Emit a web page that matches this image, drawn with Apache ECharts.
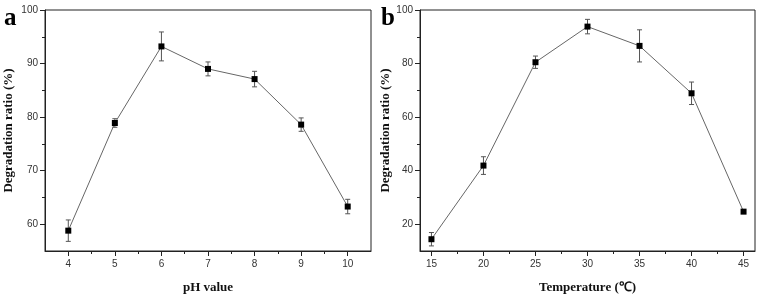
<!DOCTYPE html>
<html>
<head>
<meta charset="utf-8">
<script src="https://cdn.jsdelivr.net/npm/echarts@6/dist/echarts.min.js"></script>
<style>
  html, body { margin: 0; padding: 0; background: #fff; }
  #chart { width: 760px; height: 299px; }
</style>
</head>
<body>
<div id="chart"></div>
<script>
// panel a : pH
var phValues = [4, 5, 6, 7, 8, 9, 10];
var phRatio = [58.8, 78.9, 93.2, 89.0, 87.1, 78.6, 63.3];
var phError = [2.0, 0.8, 2.7, 1.3, 1.45, 1.25, 1.35];
var phTicks = [4, 5, 6, 7, 8, 9, 10];
var phMinorTicks = [4.5, 5.5, 6.5, 7.5, 8.5, 9.5];
var ratioTicksA = [60, 70, 80, 90, 100];
var ratioMinorA = [65, 75, 85, 95];

// panel b : temperature
var tempValues = [15, 20, 25, 30, 35, 40, 45];
var tempRatio = [14.4, 41.9, 80.5, 93.8, 86.6, 68.9, 24.7];
var tempError = [2.5, 3.3, 2.3, 2.7, 6.0, 4.2, 0.4];
var tempTicks = [15, 20, 25, 30, 35, 40, 45];
var tempMinorTicks = [17.5, 22.5, 27.5, 32.5, 37.5, 42.5];
var ratioTicksB = [20, 40, 60, 80, 100];
var ratioMinorB = [30, 50, 70, 90];

var chart = echarts.init(document.getElementById('chart'));

var axisColor = '#222';
var labelFont = { fontSize: 10, fontFamily: 'Liberation Sans, Arial, sans-serif', color: '#333' };
var titleFont = { fontSize: 13, fontWeight: 'bold', fontFamily: 'Liberation Serif, Times New Roman, serif', color: '#111' };

function pairs(xs, ys) {
    return xs.map(function (x, i) { return [x, ys[i]]; });
}
function triples(xs, ys, es) {
    return xs.map(function (x, i) { return [x, ys[i], es[i]]; });
}

function errorBars(params, api) {
    var x = api.value(0), y = api.value(1), e = api.value(2);
    var top = api.coord([x, y + e]);
    var bot = api.coord([x, y - e]);
    var w = 2.5;
    var style = { stroke: '#555', lineWidth: 1 };
    return {
        type: 'group',
        children: [
            { type: 'line', shape: { x1: top[0], y1: top[1], x2: bot[0], y2: bot[1] }, style: style },
            { type: 'line', shape: { x1: top[0] - w, y1: top[1], x2: top[0] + w, y2: top[1] }, style: style },
            { type: 'line', shape: { x1: bot[0] - w, y1: bot[1], x2: bot[0] + w, y2: bot[1] }, style: style }
        ]
    };
}

function mainX(grid, min, max, ticks, name, gap) {
    return {
        type: 'value', gridIndex: grid, min: min, max: max, position: 'bottom',
        name: name, nameLocation: 'middle', nameGap: gap, nameTextStyle: titleFont,
        axisLine: { onZero: false, lineStyle: { color: axisColor, width: 1 } },
        axisTick: { customValues: ticks, length: 5, lineStyle: { color: axisColor } },
        axisLabel: Object.assign({ customValues: ticks, margin: 8 }, labelFont),
        splitLine: { show: false }
    };
}
function minorX(grid, min, max, ticks) {
    return {
        type: 'value', gridIndex: grid, min: min, max: max, position: 'bottom',
        axisLine: { show: false, onZero: false },
        axisTick: { customValues: ticks, length: 3, lineStyle: { color: axisColor } },
        axisLabel: { show: false },
        splitLine: { show: false }
    };
}
function mainY(grid, min, max, ticks, gap) {
    return {
        type: 'value', gridIndex: grid, min: min, max: max, position: 'left',
        name: 'Degradation ratio (%)', nameLocation: 'middle', nameGap: gap, nameTextStyle: titleFont,
        axisLine: { show: true, onZero: false, lineStyle: { color: axisColor, width: 1 } },
        axisTick: { show: true, customValues: ticks, length: 5, lineStyle: { color: axisColor } },
        axisLabel: Object.assign({ customValues: ticks, margin: 7 }, labelFont),
        splitLine: { show: false }
    };
}
function minorY(grid, min, max, ticks) {
    return {
        type: 'value', gridIndex: grid, min: min, max: max, position: 'left',
        axisLine: { show: false, onZero: false },
        axisTick: { show: true, customValues: ticks, length: 3, lineStyle: { color: axisColor } },
        axisLabel: { show: false },
        splitLine: { show: false }
    };
}

function lineSeries(x, y, data) {
    return {
        type: 'line', xAxisIndex: x, yAxisIndex: y, data: data,
        symbol: 'rect', symbolSize: 6, z: 3,
        lineStyle: { color: '#666', width: 1 },
        itemStyle: { color: '#000' },
        animation: false
    };
}
function errSeries(x, y, data) {
    return {
        type: 'custom', xAxisIndex: x, yAxisIndex: y, data: data,
        renderItem: errorBars, z: 2, animation: false
    };
}

chart.setOption({
    animation: false,
    grid: [
        { left: 45, top: 10, width: 326, height: 249, show: true, borderColor: axisColor, borderWidth: 1 },
        { left: 420, top: 10, width: 335, height: 246, show: true, borderColor: axisColor, borderWidth: 1 }
    ],
    xAxis: [
        mainX(0, 3.5, 10.5, phTicks, 'pH value', 30),
        minorX(0, 3.5, 10.5, phMinorTicks),
        mainX(1, 13.9, 46.1, tempTicks, 'Temperature (℃)', 30),
        minorX(1, 13.9, 46.1, tempMinorTicks)
    ],
    yAxis: [
        mainY(0, 55, 100, ratioTicksA, 30),
        minorY(0, 55, 100, ratioMinorA),
        mainY(1, 10, 100, ratioTicksB, 27),
        minorY(1, 10, 100, ratioMinorB)
    ],
    graphic: [
        { type: 'text', left: 4, top: 6, style: { text: 'a', font: 'bold 25px Liberation Serif, Times New Roman, serif', fill: '#000' } },
        { type: 'text', left: 381, top: 6, style: { text: 'b', font: 'bold 25px Liberation Serif, Times New Roman, serif', fill: '#000' } }
    ],
    series: [
        errSeries(0, 0, triples(phValues, phRatio, phError)),
        lineSeries(0, 0, pairs(phValues, phRatio)),
        errSeries(2, 2, triples(tempValues, tempRatio, tempError)),
        lineSeries(2, 2, pairs(tempValues, tempRatio))
    ]
});
</script>
</body>
</html>
